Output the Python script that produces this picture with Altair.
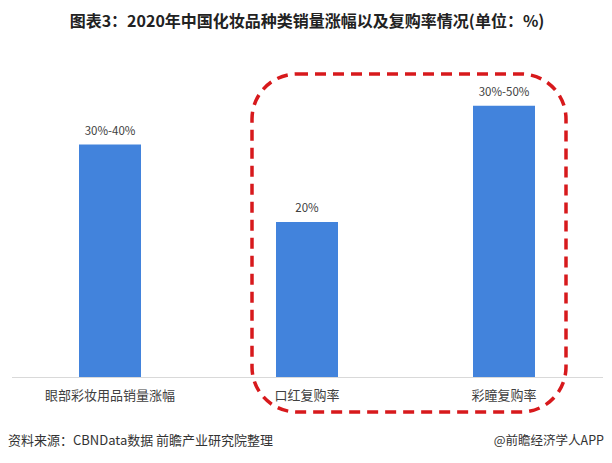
import altair as alt
import pandas as pd

categories = ["眼部彩妆用品销量涨幅", "口红复购率", "彩瞳复购率"]
values = [30, 20, 35]
value_labels = ["30%-40%", "20%", "30%-50%"]
title_text = "图表3：2020年中国化妆品种类销量涨幅以及复购率情况(单位：%)"
source_text = "资料来源：CBNData数据 前瞻产业研究院整理"
brand_text = "@前瞻经济学人APP"

df = pd.DataFrame({"cat": categories, "val": values, "lab": value_labels})
one = pd.DataFrame({"s": [source_text], "b": [brand_text]})

W, H = 591, 310
FONT = "Noto Sans CJK SC"

x = alt.X("cat:N", sort=categories,
          scale=alt.Scale(paddingInner=0, paddingOuter=0),
          axis=alt.Axis(title=None, ticks=False, labelAngle=0, labelFontSize=13,
                        labelColor="#404040", labelFont=FONT, labelPadding=12,
                        domainColor="#d9d9d9", domainWidth=1, grid=False))
y = alt.Y("val:Q", scale=alt.Scale(domain=[0, 40], nice=False), axis=None)

bars = alt.Chart(df).mark_bar(size=62, color="#4283DC").encode(x=x, y=y)
labels = alt.Chart(df).mark_text(baseline="bottom", dy=-8, fontSize=11.5, color="#404040", font=FONT).encode(
    x=x, y=y, text="lab:N")

box = alt.Chart(one).mark_rect(filled=False, stroke="#D7191C", strokeWidth=3.5,
                               strokeDash=[11, 7], cornerRadius=45).encode(
    x=alt.value(240.5), x2=alt.value(554.5), y=alt.value(7), y2=alt.value(345))

src = alt.Chart(one).mark_text(fontSize=13, color="#333333", font=FONT,
                               baseline="middle", align="left").encode(
    x=alt.value(-3.5), y=alt.value(374), text="s:N")
brand = alt.Chart(one).mark_text(fontSize=12.5, color="#333333", font=FONT,
                                 baseline="middle", align="right").encode(
    x=alt.value(592.5), y=alt.value(374), text="b:N")

chart = alt.layer(bars, labels, box, src, brand).properties(
    width=W, height=H,
    background="white",
    title=alt.TitleParams(title_text, fontSize=16, fontWeight="bold", color="#222222",
                          font=FONT, anchor="middle", baseline="middle", offset=29),
    autosize=alt.AutoSizeParams(type="none"),
    padding={"left": 3.5, "top": 59, "right": 1.5, "bottom": 78},
).configure_view(strokeWidth=0).configure_axis(grid=False)

chart.save("out.html", embed_options={"renderer": "svg", "actions": False})
